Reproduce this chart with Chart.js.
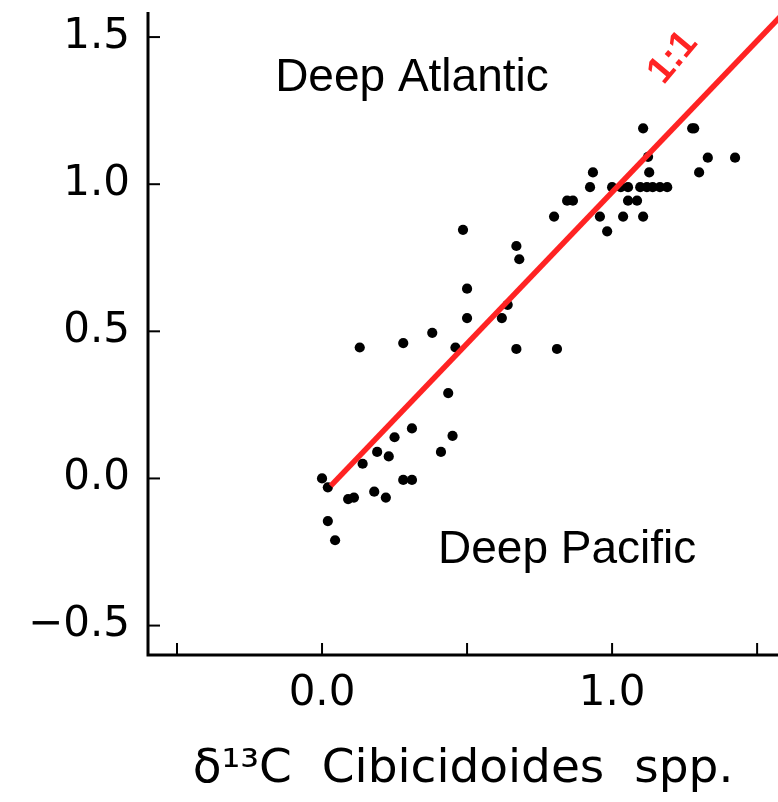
<!DOCTYPE html>
<html>
<head>
<meta charset="utf-8">
<script src="https://cdn.jsdelivr.net/npm/chart.js@4.4.1/dist/chart.umd.min.js"></script>
<style>
  html, body { margin: 0; padding: 0; background: #fff; }
  #wrap { width: 778px; height: 802px; }
</style>
</head>
<body>
<div id="wrap"><canvas id="chart" width="778" height="802"></canvas></div>
<script>
// d13C Cibicidoides spp. (x) against d13C of bottom water (y)
const cibX = [
  0.00, 0.02, 0.09, 0.11, 0.02, 0.045, 0.14, 0.19, 0.23, 0.25, 0.31, 0.18, 0.22, 0.28, 0.31, 0.41, 0.45, 0.435,
  0.13, 0.28, 0.38, 0.46, 0.50, 0.50, 0.486, 0.62, 0.64, 0.67, 0.68, 0.67, 0.81,
  0.80, 0.845, 0.865, 0.924, 0.934, 0.958, 0.983, 1.00, 1.03, 1.055, 1.038, 1.055, 1.086, 1.107,
  1.097, 1.12, 1.14, 1.165, 1.19, 1.107, 1.124, 1.128, 1.276, 1.283, 1.30, 1.33, 1.424
];
const waterY = [
  0.00, -0.03, -0.07, -0.065, -0.145, -0.21, 0.05, 0.09, 0.075, 0.14, 0.17, -0.045, -0.065, -0.005, -0.005, 0.09, 0.145, 0.29,
  0.445, 0.46, 0.495, 0.445, 0.545, 0.645, 0.845, 0.545, 0.59, 0.79, 0.745, 0.44, 0.44,
  0.89, 0.944, 0.944, 0.99, 1.04, 0.89, 0.84, 0.99, 0.99, 0.99, 0.89, 0.944, 0.944, 0.89,
  0.99, 0.99, 0.99, 0.99, 0.99, 1.19, 1.093, 1.04, 1.19, 1.19, 1.04, 1.09, 1.09
];
// 1:1 line end points
const lineX = [0.03, 1.6];
const lineY = [-0.025, 1.59];

const xTicks = [-0.5, 0, 0.5, 1.0, 1.5];
const xTickLabels = ['', '0.0', '', '1.0', ''];
const yTicks = [-0.5, 0, 0.5, 1.0, 1.5];
const yTickLabels = ['\u22120.5', '0.0', '0.5', '1.0', '1.5'];

const RED = '#ff2323';
const TICK_FONT = { family: 'DejaVu Sans', size: 42 };

const framePlugin = {
  id: 'frame',
  afterDatasetsDraw(chart) {
    const ctx = chart.ctx;
    const x = chart.scales.x, y = chart.scales.y;
    const area = chart.chartArea;
    ctx.save();
    ctx.strokeStyle = '#000';
    ctx.lineWidth = 3;
    ctx.beginPath();
    ctx.moveTo(area.left, area.top + 12);
    ctx.lineTo(area.left, area.bottom);
    ctx.lineTo(area.right, area.bottom);
    ctx.stroke();
    ctx.lineWidth = 2;
    yTicks.forEach(v => {
      const py = y.getPixelForValue(v);
      ctx.beginPath();
      ctx.moveTo(area.left, py);
      ctx.lineTo(area.left + 12, py);
      ctx.stroke();
    });
    xTicks.forEach(v => {
      const px = x.getPixelForValue(v);
      ctx.beginPath();
      ctx.moveTo(px, area.bottom);
      ctx.lineTo(px, area.bottom - 12);
      ctx.stroke();
    });

    ctx.fillStyle = '#000';
    ctx.font = '46px "Liberation Sans", Arial, sans-serif';
    ctx.textAlign = 'center';
    ctx.textBaseline = 'middle';
    ctx.fillText('Deep Atlantic', x.getPixelForValue(0.31), y.getPixelForValue(1.36));
    ctx.fillText('Deep Pacific', x.getPixelForValue(0.845), y.getPixelForValue(-0.245));

    ctx.translate(x.getPixelForValue(1.21), y.getPixelForValue(1.43));
    ctx.rotate(-50 * Math.PI / 180);
    ctx.fillStyle = RED;
    ctx.font = 'bold 38px "Liberation Sans", Arial, sans-serif';
    ctx.fillText('1:1', 0, 0);
    ctx.restore();
  }
};

new Chart(document.getElementById('chart'), {
  type: 'scatter',
  data: {
    datasets: [
      {
        type: 'line',
        data: lineX.map((v, i) => ({ x: v, y: lineY[i] })),
        borderColor: RED,
        borderWidth: 5.5,
        pointRadius: 0,
        fill: false
      },
      {
        data: cibX.map((v, i) => ({ x: v, y: waterY[i] })),
        backgroundColor: '#000',
        borderWidth: 0,
        pointRadius: 5.1
      }
    ]
  },
  options: {
    responsive: false,
    animation: false,
    layout: { padding: 0, autoPadding: false },
    plugins: { legend: { display: false }, tooltip: { enabled: false } },
    scales: {
      x: {
        type: 'linear',
        min: -0.6,
        max: 1.572,
        afterBuildTicks: s => { s.ticks = xTicks.map(v => ({ value: v })); },
        afterFit: s => { s.height = 147; s.paddingLeft = 0; s.paddingRight = 0; },
        grid: { display: false, drawTicks: false },
        border: { display: false },
        ticks: {
          callback: (v, i) => xTickLabels[i],
          font: TICK_FONT,
          color: '#000',
          padding: 14,
          maxRotation: 0,
          autoSkip: false
        },
        title: {
          display: true,
          text: '\u03b4\u00b9\u00b3C  Cibicidoides  spp.',
          font: { family: 'DejaVu Sans', size: 47 },
          color: '#000',
          padding: { top: 0, bottom: 4 }
        }
      },
      y: {
        type: 'linear',
        min: -0.6,
        max: 1.626,
        afterBuildTicks: s => { s.ticks = yTicks.map(v => ({ value: v })); },
        afterFit: s => { s.width = 148; s.paddingTop = 0; s.paddingBottom = 0; },
        grid: { display: false, drawTicks: false },
        border: { display: false },
        ticks: {
          callback: (v, i) => yTickLabels[i],
          font: TICK_FONT,
          color: '#000',
          padding: 18,
          autoSkip: false
        }
      }
    }
  },
  plugins: [framePlugin]
});
</script>
</body>
</html>
